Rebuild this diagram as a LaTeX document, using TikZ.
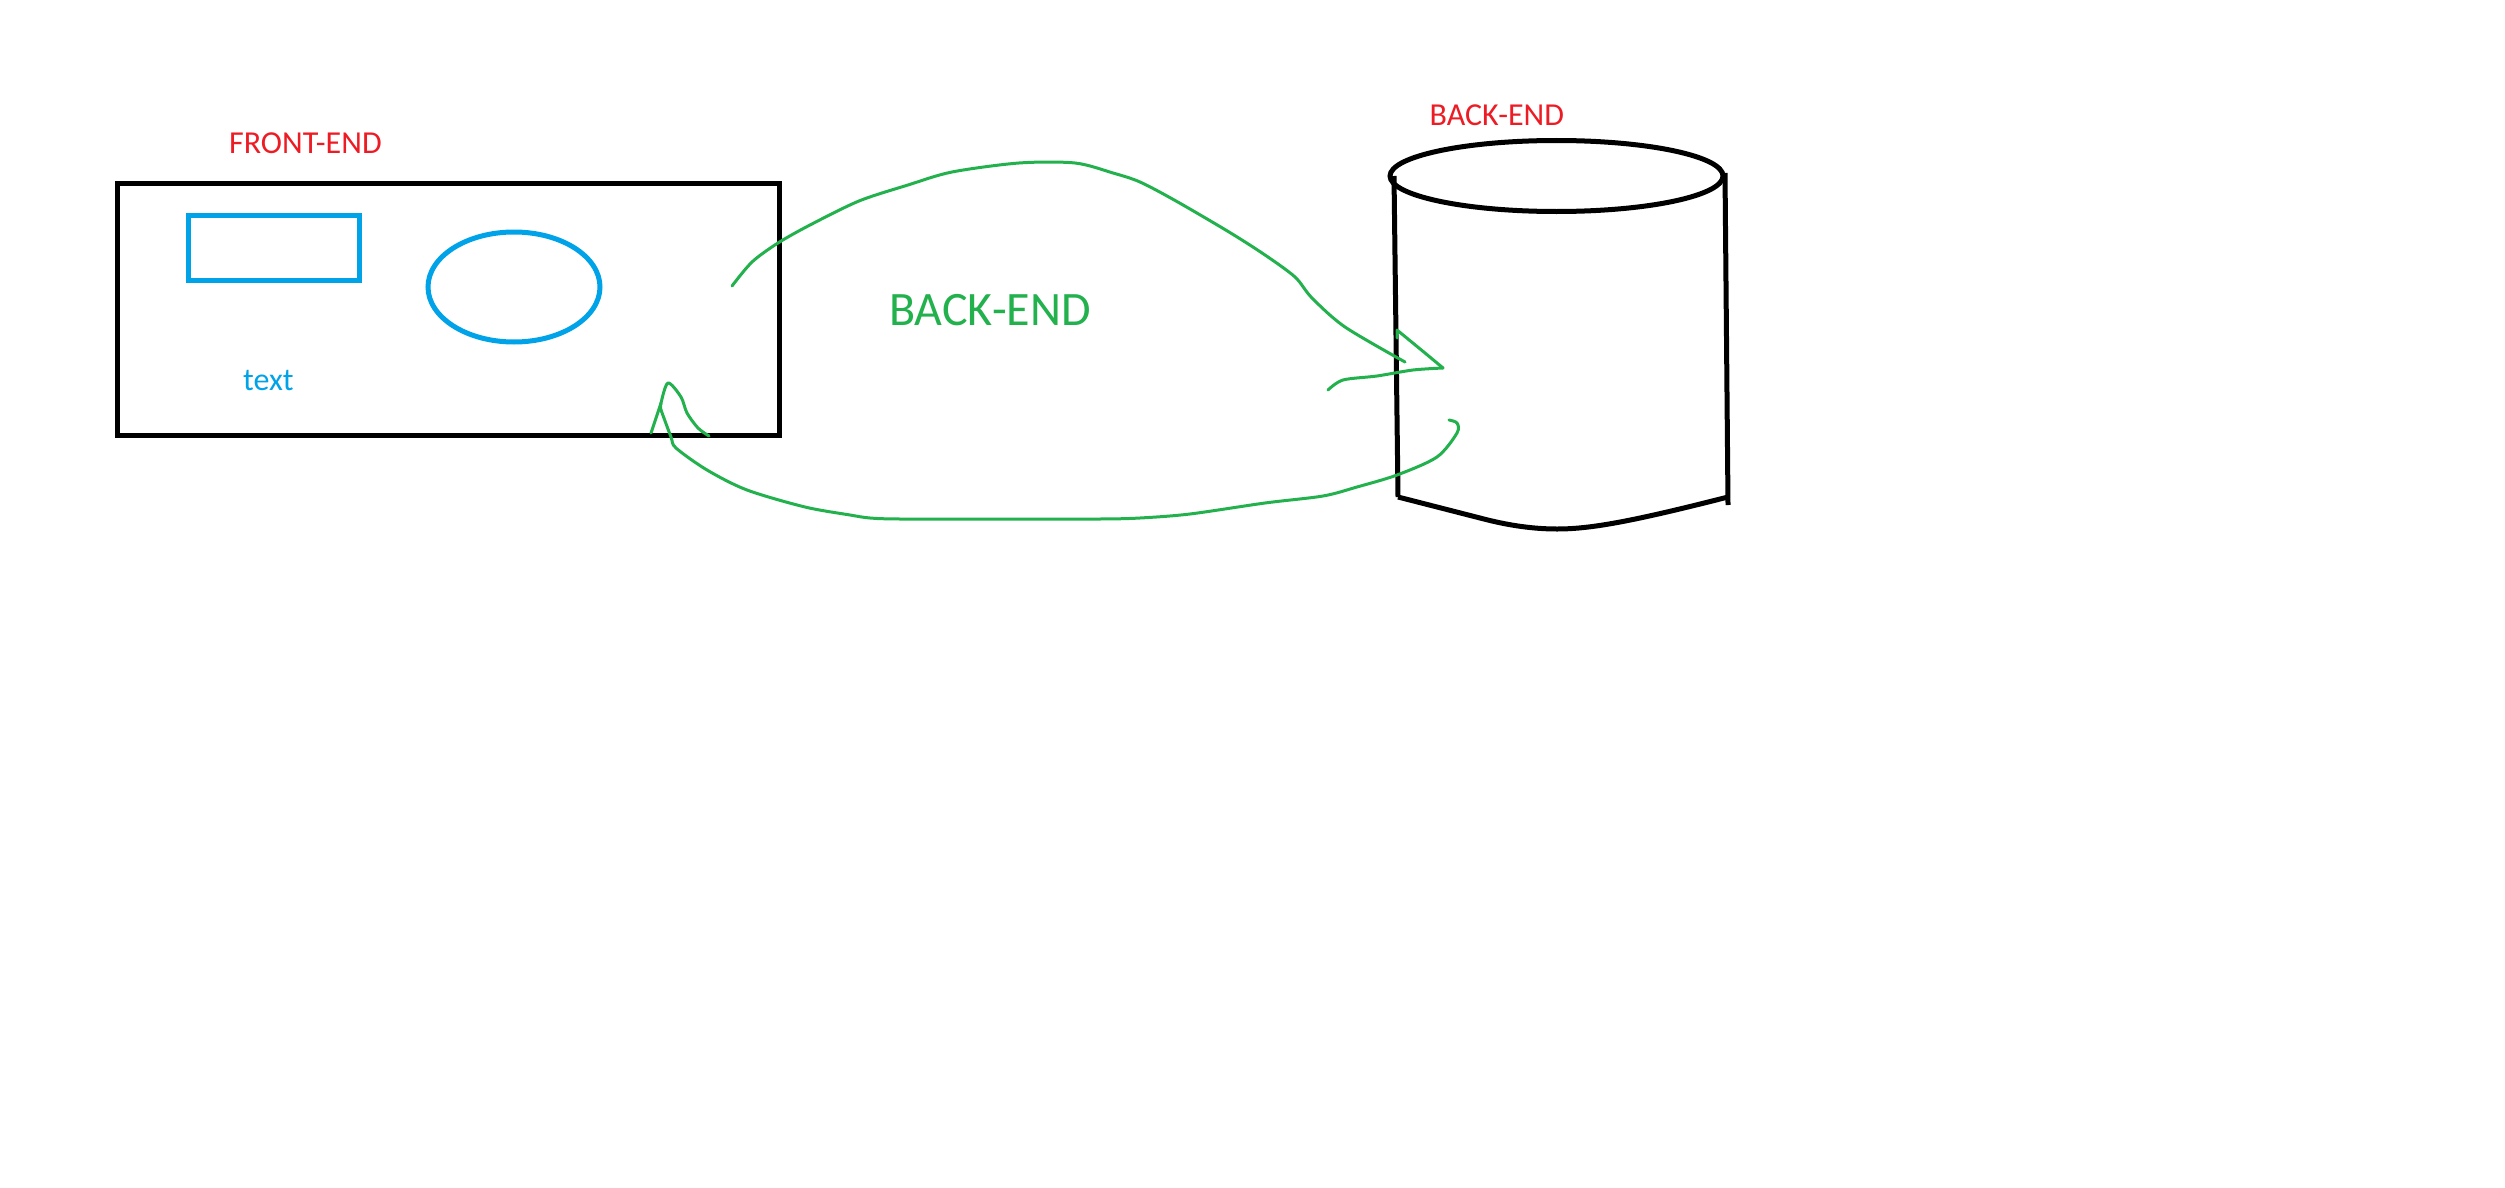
\documentclass[tikz,border=0pt]{standalone}
\usepackage{fontspec}
\setmainfont{Carlito}
\usetikzlibrary{shapes.geometric, positioning}
\definecolor{paintred}{HTML}{ED1C24}
\definecolor{paintblue}{HTML}{00A2E8}
\definecolor{paintgreen}{HTML}{22B14C}
\tikzset{
    heavyline/.style={draw=black, line width=5pt},
    blueline/.style={draw=paintblue, line width=5pt},
    sketchline/.style={draw=paintgreen, line width=3pt, line cap=round, line join=round},
    label/.style={inner sep=0pt, anchor=base west},
}
\begin{document}
\begin{tikzpicture}[x=1pt, y=-1pt]
        \useasboundingbox (0,0) rectangle (2505,1188);

        % front-end side
        \node (frontbox) [heavyline, shape=rectangle, minimum width=661.5pt, minimum height=252pt, inner sep=0pt] at (448.25,309) {};
        \node (bluebox) [blueline, shape=rectangle, minimum width=171pt, minimum height=65pt, inner sep=0pt] at (273.5,247.5) {};
        \node (blueoval) [blueline, shape=ellipse, minimum width=172pt, minimum height=110pt, inner sep=0pt] at (514,287) {};
        \node (frontlabel) [label, text=paintred, font=\fontsize{32}{38}\selectfont] at (229,153.5) {FRONT-END};
        \node (textlabel) [label, text=paintblue, font=\fontsize{32}{38}\selectfont] at (243,390.5) {text};

        % back-end cylinder
        \node (dbtop) [heavyline, shape=ellipse, minimum width=333pt, minimum height=71pt, inner sep=0pt] at (1556.5,176) {};
        \coordinate (dbleft) at (1394,176);
        \coordinate (dbright) at (1725,173);
        \coordinate (dbbaseleft) at (1398,497);
        \coordinate (dbbaseright) at (1728,505);
        \coordinate (dbbasemid) at (1557,529);
        \draw [heavyline] (dbleft) -- (dbbaseleft);
        \draw [heavyline] (dbright) -- (dbbaseright);
        \draw [heavyline] (dbbaseleft) -- (1480,518) .. controls (1510,526) and (1535,529) .. (dbbasemid)
            .. controls (1590,529) and (1630,522) .. (1728,497);
        \node (backlabel) [label, text=paintred, font=\fontsize{32}{38}\selectfont] at (1429.5,125.5) {BACK-END};

        % hand drawn arrows
        \node (midlabel) [label, text=paintgreen, font=\fontsize{48}{58}\selectfont] at (889,325) {BACK-END};
        \coordinate (upstart) at (732,286);
        \coordinate (upend) at (1405,362);
        \coordinate (uphead) at (1397,330);
        \coordinate (uptip) at (1443,368);
        \coordinate (uptail) at (1328,390);
        \coordinate (downstart) at (1449,420);
        \coordinate (downend) at (661,410);
        \coordinate (downbarb) at (651,433);
        \coordinate (downtop) at (668,383);
        \coordinate (downfoot) at (709,436);
        \draw [sketchline] plot [smooth, tension=0.5] coordinates {(upstart) (752,262) (778,243) (810,225) (859,201) (908,185)
            (952,172) (1019,163) (1075,163) (1113,173) (1140,182) (1176,201) (1229,232) (1265,255) (1295,277) (1312,298)
            (1345,327) (upend)};
        \draw [sketchline] (uphead) -- (1397,338) (uphead) -- (1425,353) -- (uptip);
        \draw [sketchline] plot [smooth, tension=0.5] coordinates {(uptip) (1413,370) (1377,376) (1343,380) (uptail)};
        \draw [sketchline] plot [smooth, tension=0.5] coordinates {(downstart) (1457,423) (1457,433) (1437,457) (1397,475)
            (1357,487) (1323,496) (1265,503) (1190,514) (1140,518) (1100,519) (1000,519) (900,519) (870,518) (850,515) (805,507)
            (747,490) (707,470) (676,448) (671,437) (downend)};
        \draw [sketchline] (downbarb) -- (661,403);
        \draw [sketchline] plot [smooth, tension=0.5] coordinates {(downend) (661,403) (downtop) (681,397) (687,413) (698,428) (downfoot)};
    \end{tikzpicture}
\end{document}
